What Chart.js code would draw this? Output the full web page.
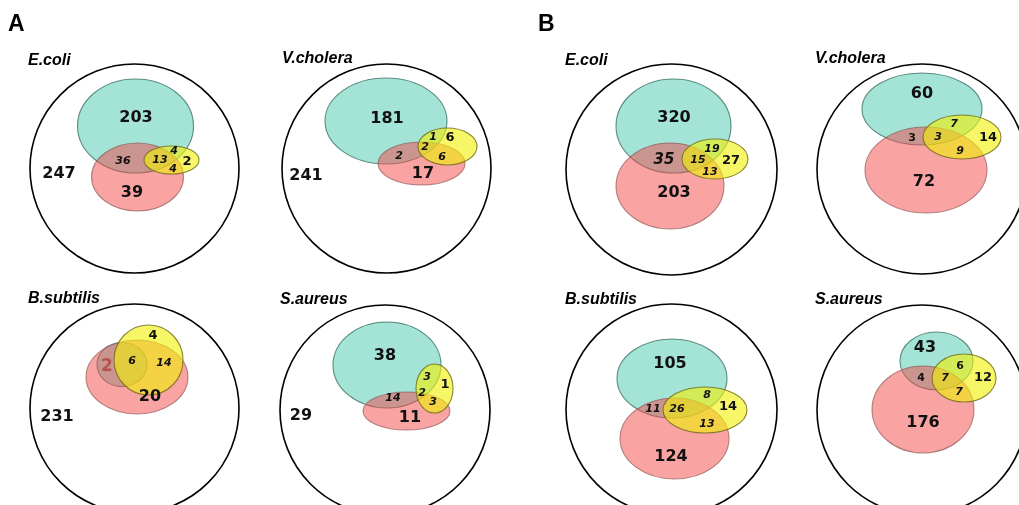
<!DOCTYPE html>
<html>
<head>
<meta charset="utf-8">
<script src="https://cdn.jsdelivr.net/npm/chart.js@4/dist/chart.umd.min.js"></script>
<style>
  html, body { margin: 0; padding: 0; background: #fff; }
  #venn { display: block; }
</style>
</head>
<body>
<canvas id="venn" width="1019" height="505"></canvas>
<script>
// Two 2x2 grids of three-set Venn diagrams (A and B), one per organism.
// Each panel: outer universe circle + cyan / red / yellow ellipses + region counts.
// Geometry lives in figure units; the chart's x/y scales map them to pixels.

const panelLetters = ["A", "B"];
const panelTitles = ["E.coli", "V.cholera", "B.subtilis", "S.aureus",
                     "E.coli", "V.cholera", "B.subtilis", "S.aureus"];

// universe circles [cx, cy, r]
const outerSets = [
  [134.5, 168.5, 104.5], [386.5, 168.5, 104.5], [134.5, 408.5, 104.5], [385, 410, 105],
  [671.5, 169.5, 105.5], [922, 169, 105], [671.5, 409.5, 105.5], [922, 410, 105],
];
// ellipses [cx, cy, rx, ry]
const cyanSets = [
  [135.5, 126, 58, 47], [386, 121, 61, 43], [122, 364.5, 25, 22], [387, 365, 54, 43],
  [673.5, 126, 57.5, 47], [922, 109, 60, 36], [672, 378.5, 55, 39.5], [936.5, 361, 36.5, 29],
];
const redSets = [
  [137.5, 177, 46, 34], [421.5, 163.5, 43.5, 21.5], [137, 377, 51, 37], [406.5, 411, 43.5, 19],
  [670, 186, 54, 43], [926, 170, 61, 43], [674.5, 438.5, 54.5, 40.5], [923, 409.5, 51, 43.5],
];
const yellowSets = [
  [171.5, 160, 27.5, 14], [447.5, 146.5, 29.5, 18.5], [148.5, 360, 34.5, 35], [434.5, 388.5, 18.5, 24.5],
  [715, 159, 33, 20], [962, 137, 39, 22], [705, 410, 42, 23], [964, 378, 32, 24],
];

// region counts per panel
const regionCounts = [
  [203, 36, 13, 4, 4, 2, 247, 39],
  [181, 1, 6, 2, 6, 2, 17, 241],
  [4, 2, 6, 14, 20, 231],
  [38, 3, 1, 2, 3, 14, 11, 29],
  [320, 35, 19, 15, 27, 13, 203],
  [60, 7, 14, 3, 3, 9, 72],
  [105, 8, 14, 11, 26, 13, 124],
  [43, 6, 12, 4, 7, 7, 176],
];

// ---- layout (positions & styles, kept apart from the values) ----
const letterAt = [[8, 25], [538, 25]];
const titleAt = [[28, 61], [282, 59], [28, 299], [280, 299.5],
                 [565, 61], [815, 59], [565, 299.5], [815, 299.5]];
const countAt = [
  [[136, 118], [123, 161], [160, 160], [174, 151], [173, 169], [187, 162], [59, 174], [132, 193]],
  [[387, 119], [433, 137], [450, 138], [425, 147], [442, 157], [399, 156], [423, 174], [306, 176]],
  [[153, 336], [107, 367], [132, 361], [164, 363], [150, 397], [57, 417]],
  [[385, 356], [427, 377], [445, 385], [422, 393], [433, 402], [393, 398], [410, 418], [301, 416]],
  [[674, 118], [664, 160], [712, 149], [698, 160], [731, 161], [710, 172], [674, 193]],
  [[922, 94], [954, 124], [988, 138], [912, 138], [938, 137], [960, 151], [924, 182]],
  [[670, 364], [707, 395], [728, 407], [653, 409], [677, 409], [707, 424], [671, 457]],
  [[925, 348], [960, 366], [983, 378], [921, 378], [945, 378], [959, 392], [923, 423]],
];
const countStyle = [
  ["L", "i", "i", "i", "i", "M", "L", "L"],
  ["L", "i", "M", "i", "i", "i", "L", "L"],
  ["M", "R", "i", "i", "L", "L"],
  ["L", "i", "M", "i", "i", "i", "L", "L"],
  ["L", "I", "i", "i", "M", "i", "L"],
  ["L", "i", "M", "s", "i", "i", "L"],
  ["L", "i", "M", "i", "i", "i", "L"],
  ["L", "s", "M", "s", "i", "i", "L"],
];

const NUM_FONT = '"DejaVu Sans", sans-serif';
const fonts = {
  L: { font: `bold 16px ${NUM_FONT}`, color: "#111" },
  M: { font: `bold 13px ${NUM_FONT}`, color: "#111" },
  s: { font: `bold 11px ${NUM_FONT}`, color: "#111" },
  i: { font: `italic bold 11px ${NUM_FONT}`, color: "#111" },
  I: { font: `italic bold 15px ${NUM_FONT}`, color: "#111" },
  R: { font: `bold 17px ${NUM_FONT}`, color: "#b5524f" },
};

const fills = [
  { sets: cyanSets, fill: "rgba(71, 201, 175, 0.5)", stroke: "rgba(50, 105, 95, 0.75)" },
  { sets: redSets, fill: "rgba(243, 71, 71, 0.5)", stroke: "rgba(140, 80, 80, 0.65)" },
  { sets: yellowSets, fill: "rgba(240, 240, 10, 0.62)", stroke: "rgba(110, 105, 20, 0.8)" },
];

const vennPlugin = {
  id: "venn",
  afterDatasetsDraw(chart) {
    const { ctx, scales: { x, y } } = chart;
    const px = (v) => x.getPixelForValue(v);
    const py = (v) => y.getPixelForValue(v);

    ctx.save();
    fills.forEach(({ sets, fill, stroke }) => {
      sets.forEach(([cx, cy, rx, ry]) => {
        const X = px(cx), Y = py(cy);
        ctx.beginPath();
        ctx.ellipse(X, Y, Math.abs(px(cx + rx) - X), Math.abs(py(cy + ry) - Y), 0, 0, Math.PI * 2);
        ctx.fillStyle = fill;
        ctx.fill();
        ctx.lineWidth = 1.1;
        ctx.strokeStyle = stroke;
        ctx.stroke();
      });
    });

    ctx.textAlign = "center";
    ctx.textBaseline = "middle";
    regionCounts.forEach((vals, p) => {
      vals.forEach((v, i) => {
        const st = fonts[countStyle[p][i]];
        ctx.font = st.font;
        ctx.fillStyle = st.color;
        ctx.fillText(String(v), px(countAt[p][i][0]), py(countAt[p][i][1]));
      });
    });

    ctx.textAlign = "left";
    ctx.fillStyle = "#000";
    ctx.font = 'italic bold 16px "Liberation Sans", Arial, sans-serif';
    panelTitles.forEach((t, p) => ctx.fillText(t, px(titleAt[p][0]), py(titleAt[p][1])));
    ctx.font = 'bold 23px "Liberation Sans", Arial, sans-serif';
    panelLetters.forEach((t, i) => ctx.fillText(t, px(letterAt[i][0]), py(letterAt[i][1])));
    ctx.restore();
  },
};

new Chart(document.getElementById("venn"), {
  type: "bubble",
  data: {
    datasets: [{
      label: "universe",
      data: outerSets.map(([cx, cy, r]) => ({ x: cx, y: cy, r })),
      backgroundColor: "rgba(0,0,0,0)",
      borderColor: "#000",
      borderWidth: 1.6,
      clip: false,
    }],
  },
  options: {
    responsive: false,
    animation: false,
    events: [],
    layout: { padding: 0, autoPadding: false },
    plugins: { legend: { display: false }, tooltip: { enabled: false } },
    scales: {
      x: { type: "linear", min: 0, max: 1019, display: false },
      y: { type: "linear", min: 0, max: 505, reverse: true, display: false },
    },
  },
  plugins: [vennPlugin],
});
</script>
</body>
</html>
